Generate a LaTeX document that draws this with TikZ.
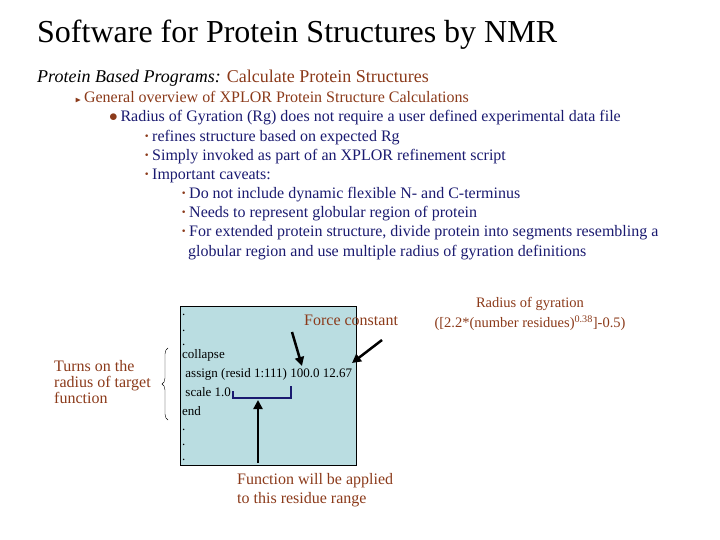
\documentclass[tikz,border=0pt]{standalone}
\usepackage{amssymb}
\usepackage{fontspec}
\setmainfont{Liberation Serif}
\usetikzlibrary{decorations.pathreplacing,arrows.meta}
\definecolor{brn}{HTML}{8B3A1A}
\definecolor{nav}{HTML}{1A1A70}
\definecolor{boxc}{HTML}{BADDE1}
\begin{document}
\begin{tikzpicture}[x=1pt,y=-1pt,
  t/.style={anchor=west,inner sep=0pt,text height=10pt,text depth=3pt,font=\fontsize{16}{16}\selectfont},
  bt/.style={t,text=nav},
  br/.style={t,text=brn},
  code/.style={anchor=west,inner sep=0pt,text height=8pt,text depth=2pt,font=\fontsize{13}{13}\selectfont},
  arr/.style={line width=2.5pt,-{Triangle[length=9pt,width=9pt]}}]
\useasboundingbox (0,0) rectangle (720,540);
\node[anchor=west,inner sep=0pt,font=\fontsize{32}{32}\selectfont] (title) at (37,35) {Software for Protein Structures by NMR};
\node[t,font=\fontsize{18}{18}\selectfont] (sub) at (37,79) {\textit{Protein Based Programs:} \textcolor{brn}{Calculate Protein Structures}};
\node[br] (l1) at (75,99) {{\fontsize{8}{8}\selectfont$\blacktriangleright$}\,General overview of XPLOR Protein Structure Calculations};
\node[bt] (l2) at (109,118) {\textcolor{brn}{$\bullet$}\,Radius of Gyration (Rg) does not require a user defined experimental data file};
\node[bt] (l3) at (144,138) {\textcolor{brn}{\textbf{·}}\,refines structure based on expected Rg};
\node[bt] (l4) at (144,157) {\textcolor{brn}{\textbf{·}}\,Simply invoked as part of an XPLOR refinement script};
\node[bt] (l5) at (144,176) {\textcolor{brn}{\textbf{·}}\,Important caveats:};
\node[bt] (l6) at (181,195) {\textcolor{brn}{\textbf{·}}\,Do not include dynamic flexible N- and C-terminus};
\node[bt] (l7) at (181,214) {\textcolor{brn}{\textbf{·}}\,Needs to represent globular region of protein};
\node[bt] (l8) at (181,233) {\textcolor{brn}{\textbf{·}}\,For extended protein structure, divide protein into segments resembling a};
\node[bt] (l9) at (188,253) {globular region and use multiple radius of gyration definitions};
\filldraw[fill=boxc,draw=black,line width=0.8pt] (180,306) rectangle (356,465);
\foreach \y/\s [count=\i] in {312/.,328/.,342/.,355/collapse,374/{\ assign (resid 1:111) 100.0 12.67},393/{\ scale 1.0},412/end,427/.,442/.,457/.}
  \node[code] (c\i) at (182,\y) {\s};
\node[br] (fc) at (304,322) {Force constant};
\node[br,anchor=center,align=center,font=\fontsize{14.5}{14.5}\selectfont,text height=,text depth=] (rg) at (530,314) {Radius of gyration\\[4pt]([2.2*(number residues)\textsuperscript{0.38}]-0.5)};
\node[br,text height=,text depth=] (tu) at (54,384) {\begin{tabular}{@{}l@{}}Turns on the\\[0pt] radius of target\\[0pt] function\end{tabular}};
\node[br,align=left,text height=,text depth=] (fn) at (237,490) {Function will be applied\\[3pt]to this residue range};
\coordinate (fa) at (292,332); \coordinate (fb) at (302,366);
\draw[arr] (fa) -- (fb);
\coordinate (ra) at (382,340); \coordinate (rb) at (352,363);
\draw[arr] (ra) -- (rb);
\coordinate (ba) at (233,391); \coordinate (bb) at (291,386);
\draw[nav,line width=1.5pt] (ba) -- (233,398) -- (291,398) -- (bb);
\coordinate (ua) at (258,463); \coordinate (ub) at (258,400);
\draw[arr] (ua) -- (ub);
\draw[decorate,decoration={brace,amplitude=6pt}] (168,420) -- (168,348);
\end{tikzpicture}
\end{document}
